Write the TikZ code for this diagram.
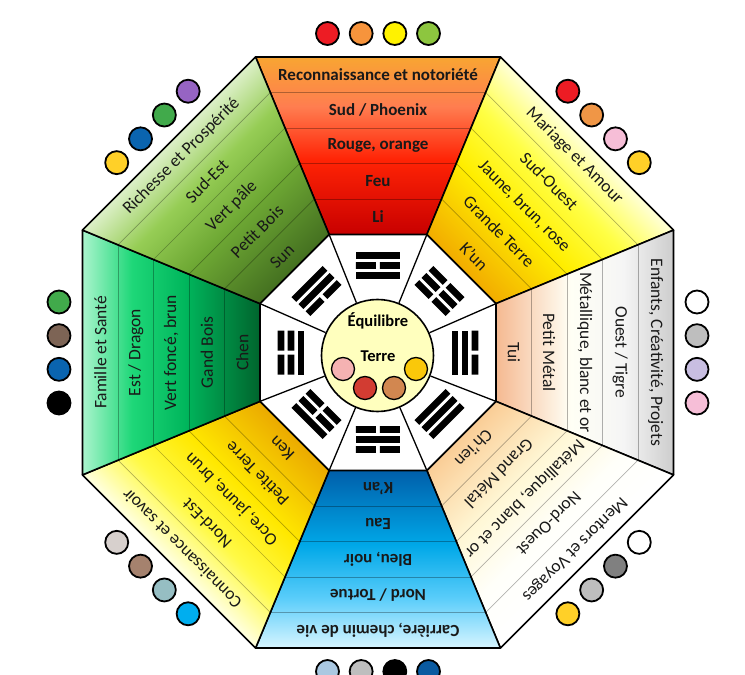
\documentclass[tikz,border=0pt]{standalone}
\usepackage{fontspec}
\setmainfont{Carlito}
% zone colours, from the rim (A) to the inner edge (D)
\definecolor{fireA}{RGB}{248,165,50}
\definecolor{fireB}{RGB}{255,125,80}
\definecolor{fireC}{RGB}{255,35,5}
\definecolor{fireD}{RGB}{200,0,0}
\definecolor{earthA}{RGB}{255,255,215}
\definecolor{earthB}{RGB}{255,255,70}
\definecolor{earthC}{RGB}{255,238,0}
\definecolor{earthD}{RGB}{242,172,0}
\definecolor{metalA}{RGB}{205,205,205}
\definecolor{metalB}{RGB}{245,245,245}
\definecolor{metalC}{RGB}{255,255,245}
\definecolor{metalD}{RGB}{245,185,145}
\definecolor{mentorA}{RGB}{255,255,255}
\definecolor{mentorB}{RGB}{255,255,250}
\definecolor{mentorC}{RGB}{255,248,215}
\definecolor{mentorD}{RGB}{250,205,150}
\definecolor{waterA}{RGB}{215,245,255}
\definecolor{waterB}{RGB}{90,205,250}
\definecolor{waterC}{RGB}{0,168,232}
\definecolor{waterD}{RGB}{0,95,170}
\definecolor{soilA}{RGB}{255,255,225}
\definecolor{soilB}{RGB}{255,250,70}
\definecolor{soilC}{RGB}{255,232,0}
\definecolor{soilD}{RGB}{235,170,0}
\definecolor{woodA}{RGB}{170,245,205}
\definecolor{woodB}{RGB}{30,215,120}
\definecolor{woodC}{RGB}{0,182,92}
\definecolor{woodD}{RGB}{0,100,45}
\definecolor{leafA}{RGB}{220,240,200}
\definecolor{leafB}{RGB}{150,205,85}
\definecolor{leafC}{RGB}{110,168,52}
\definecolor{leafD}{RGB}{68,112,32}
\definecolor{centre}{RGB}{255,255,190}
\definecolor{dotred}{RGB}{237,28,36}
\definecolor{dotorange}{RGB}{247,148,60}
\definecolor{dotapricot}{RGB}{240,150,70}
\definecolor{dotyellow}{RGB}{255,242,0}
\definecolor{dotgreen}{RGB}{141,198,63}
\definecolor{dotpink}{RGB}{246,190,215}
\definecolor{dotgold}{RGB}{255,208,40}
\definecolor{dotsilver}{RGB}{190,190,190}
\definecolor{dotlilac}{RGB}{200,190,225}
\definecolor{dotslate}{RGB}{128,128,128}
\definecolor{dotnavy}{RGB}{10,90,160}
\definecolor{dotsky}{RGB}{170,200,225}
\definecolor{dotcyan}{RGB}{0,174,239}
\definecolor{dotteal}{RGB}{150,190,195}
\definecolor{dotbrown}{RGB}{165,130,110}
\definecolor{dottan}{RGB}{215,208,205}
\definecolor{dotblue}{RGB}{10,100,175}
\definecolor{dotumber}{RGB}{125,100,85}
\definecolor{dotleaf}{RGB}{65,170,75}
\definecolor{dotpurple}{RGB}{150,100,195}
\definecolor{pippink}{RGB}{245,178,178}
\definecolor{pipred}{RGB}{210,60,50}
\definecolor{pipbrown}{RGB}{210,135,80}
\definecolor{pipgold}{RGB}{250,200,10}
\colorlet{zoneA}{white}\colorlet{zoneB}{white}\colorlet{zoneC}{white}\colorlet{zoneD}{white}
\pgfdeclareverticalshading[zoneA,zoneB,zoneC,zoneD]{zone}{100bp}{color(0bp)=(zoneD); color(25bp)=(zoneD); color(46bp)=(zoneC); color(61bp)=(zoneB); color(75bp)=(zoneA); color(100bp)=(zoneA)}

\tikzset{
  edge/.style={draw=black,line width=1.6pt,line join=round},
  sep/.style={draw=black,line width=.7pt,opacity=.3},
  band/.style={font=\fontsize{17.5}{18}\selectfont,text=black!90,inner sep=0pt,transform shape},
  title/.style={band,font=\fontsize{17}{18}\selectfont\bfseries},
  dot/.style={circle,draw=black,line width=1.8pt,minimum size=23pt,inner sep=0pt},
  pip/.style={circle,draw=black,line width=1.3pt,minimum size=23pt,inner sep=0pt},
}
% #1 name, #2 angle, #3 colour set, #4 text style, #5 labels from the rim inwards
\newcommand\zone[5]{%
  \colorlet{zoneA}{#3A}\colorlet{zoneB}{#3B}\colorlet{zoneC}{#3C}\colorlet{zoneD}{#3D}%
  \begin{scope}[transform canvas={rotate=#2}]
    \shade[shading=zone] (-122.4,295.5) -- (122.4,295.5) -- (48.9,118) -- (-48.9,118) -- cycle;
  \end{scope}
  \begin{scope}[rotate=#2]
    \foreach \r in {153.5,189,224.5,260} \draw[sep] ({-.4142*\r},\r) -- ({.4142*\r},\r);
    \foreach \t [count=\i] in {#5} \node[#4] (#1\i) at (0,{313.25-35.5*\i}) {\t};
    \draw[edge] (-122.4,295.5) -- (122.4,295.5) -- (48.9,118) -- (-48.9,118) -- cycle;
  \end{scope}}

\begin{document}
\begin{tikzpicture}[x=1pt,y=1pt]
\useasboundingbox (-378,-322.5) rectangle (367,352.5);
\clip (-378,-322.5) rectangle (367,352.5);
% white ring behind the trigrams
\foreach \k in {0,...,7} \coordinate (v\k) at (22.5+45*\k:127.7);
\fill[white] (v0) -- (v1) -- (v2) -- (v3) -- (v4) -- (v5) -- (v6) -- (v7) -- cycle;
% the eight zones, clockwise from the top
\zone{sud}{0}{fire}{title}{Reconnaissance et notoriété, Sud / Phoenix, {Rouge, orange}, Feu, Li}
\zone{sudouest}{-45}{earth}{band}{Mariage et Amour, Sud-Ouest, {Jaune, brun, rose}, Grande Terre, K’un}
\zone{ouest}{-90}{metal}{band}{{Enfants, Créativité, Projets}, Ouest / Tigre, {Métallique, blanc et or}, Petit Métal, Tui}
\zone{nordouest}{-135}{mentor}{band}{Mentors et Voyages, Nord-Ouest, {Métallique, blanc et or}, Grand Métal, Ch’ien}
\zone{nord}{180}{water}{title}{{Carrière, chemin de vie}, Nord / Tortue, {Bleu, noir}, Eau, K’an}
\zone{nordest}{135}{soil}{band}{Connaissance et savoir, Nord-Est, {Ocre, jaune, brun}, Petite Terre, Ken}
\zone{est}{90}{wood}{band}{Famille et Santé, Est / Dragon, {Vert foncé, brun}, Gand Bois, Chen}
\zone{sudest}{45}{leaf}{band}{Richesse et Prospérité, Sud-Est, Vert pâle, Petit Bois, Sun}
% trigrams, lines from the rim inwards (1 whole, 0 broken)
\foreach \a/\p/\q/\s in {0/1/0/1,-45/0/0/0,-90/0/1/1,-135/1/1/1,180/0/1/0,135/1/0/0,90/0/0/1,45/1/1/0}{
  \begin{scope}[rotate=\a]
    \foreach \v [count=\j] in {\p,\q,\s}{
      \ifnum\v=1 \fill (-22,{110.4-10*\j}) rectangle (22,{103.6-10*\j});
      \else \fill (-22,{110.4-10*\j}) rectangle (-2,{103.6-10*\j}) (2,{110.4-10*\j}) rectangle (22,{103.6-10*\j});
      \fi}
  \end{scope}}
% colour dots outside each side
\foreach \a/\ca/\cb/\cc/\cd [count=\k] in {0/dotred/dotorange/dotyellow/dotgreen,-45/dotred/dotapricot/dotpink/dotgold,-90/white/dotsilver/dotlilac/dotpink,-135/white/dotslate/dotsilver/dotgold,180/dotnavy/black/dotsilver/dotsky,135/dotcyan/dotteal/dotbrown/dottan,90/black/dotblue/dotumber/dotleaf,45/dotgold/dotblue/dotleaf/dotpurple}{
  \begin{scope}[rotate=\a]
    \foreach \c [count=\j] in {\ca,\cb,\cc,\cd} \node[dot,fill=\c] (c\k\j) at ({33.67*\j-84.17},319) {};
  \end{scope}}
% centre
\node[circle,draw=black,line width=1.6pt,fill=centre,minimum size=112pt,inner sep=0pt] (core) at (-.5,-3) {};
\foreach \k in {0,...,7} \draw[line width=1.3pt] (v\k) -- (core);
\node[font=\fontsize{16.5}{17}\selectfont\bfseries] (equilibre) at (0,31.5) {Équilibre};
\node[font=\fontsize{16.5}{17}\selectfont\bfseries] (terre) at (0,-3.5) {Terre};
\foreach \c/\x/\y [count=\j] in {pippink/-35/-16.5,pipred/-13/-35.5,pipbrown/16/-35.5,pipgold/38/-16.5} \node[pip,fill=\c] (pip\j) at (\x,\y) {};
\end{tikzpicture}
\end{document}
